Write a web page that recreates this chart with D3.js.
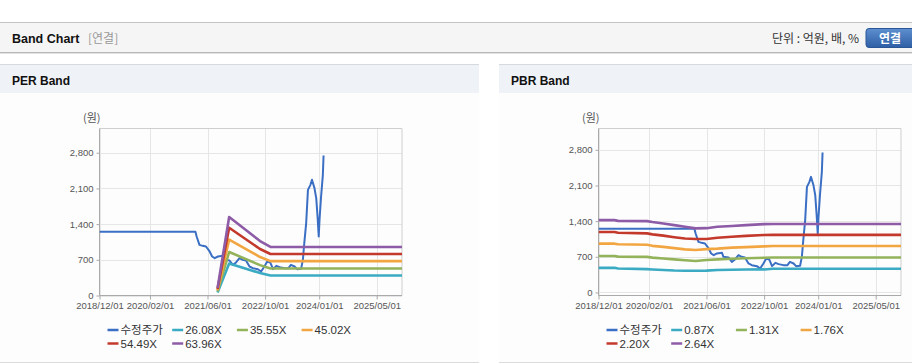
<!DOCTYPE html>
<html><head><meta charset="utf-8">
<script src="https://cdn.jsdelivr.net/npm/d3@7"></script>
<style>
html,body{margin:0;padding:0;background:#fff;}
svg{display:block;font-family:"Liberation Sans","Noto Sans CJK KR",sans-serif;}
</style></head><body>
<svg id="c" width="912" height="364"></svg>
<script>
// ---------- data ----------
const xTickLabels = ["2018/12/01","2020/02/01","2021/06/01","2022/10/01","2024/01/01","2025/05/01"];
const yTicks = [0,700,1400,2100,2800];
const priceName = "수정주가";
const priceDates = ["2018-12-01","2021-02-19","2021-03-01","2021-03-25","2021-04-21","2021-05-19","2021-06-19","2021-07-10","2021-08-01","2021-08-28","2021-10-10","2021-10-22","2021-12-04","2022-01-01","2022-01-28","2022-02-26","2022-03-25","2022-04-22","2022-05-22","2022-06-19","2022-08-01","2022-08-28","2022-09-25","2022-10-19","2022-11-13","2022-12-07","2023-01-04","2023-02-01","2023-03-13","2023-04-16","2023-05-07","2023-06-07","2023-06-28","2023-08-01","2023-08-16","2023-08-28","2023-09-13","2023-09-28","2023-10-19","2023-11-01","2023-11-22","2023-12-07","2023-12-19","2023-12-28","2024-01-04","2024-01-16","2024-02-01","2024-02-07"];
const priceValues = [1249,1249,1158,993,974,961,864,765,732,765,778,699,687,601,648,732,699,687,569,536,516,471,569,667,648,516,581,556,536,536,601,569,516,523,699,1027,1419,2073,2171,2270,2106,1910,1517,1158,1490,1910,2367,2748];

const perNames = ["26.08X","35.55X","45.02X","54.49X","63.96X"];
const perDates = ["2021-08-25","2021-12-01","2022-08-19","2022-11-15","2025-12-01"];
const per1 = [60,627,440,392,392];
const per2 = [83,854,596,530,530];
const per3 = [105,1096,755,675,675];
const per4 = [128,1328,912,815,815];
const per5 = [150,1539,1069,952,952];

const pbrNames = ["0.87X","1.31X","1.76X","2.20X","2.64X"];
const pbrDates = ["2018-12-01","2019-04-15","2019-05-15","2020-01-15","2020-03-01","2020-06-01","2020-09-01","2020-12-01","2021-03-01","2021-06-01","2021-09-01","2022-01-01","2022-05-01","2022-10-01","2022-12-15","2025-12-01"];
const pbr1 = [483,483,470,458,452,440,430,425,425,428,442,447,450,452,465,465];
const pbr2 = [715,715,703,698,683,668,650,632,618,638,650,662,672,682,685,685];
const pbr3 = [958,958,945,935,915,895,870,845,832,850,860,880,890,905,912,912];
const pbr4 = [1188,1188,1172,1160,1140,1115,1085,1060,1048,1050,1075,1095,1110,1128,1130,1130];
const pbr5 = [1420,1420,1405,1400,1382,1355,1322,1290,1258,1262,1290,1305,1322,1342,1345,1345];

const colors = ["#3b6fc4","#3aabc2","#93b35b","#f2a641","#c33a2c","#8e5ba6"];

// ---------- page chrome ----------
const svg = d3.select("#c");
const defs = svg.append("defs");
const grad = defs.append("linearGradient").attr("id","btn").attr("x1",0).attr("y1",0).attr("x2",0).attr("y2",1);
grad.append("stop").attr("offset","0%").attr("stop-color","#5c8fd0");
grad.append("stop").attr("offset","100%").attr("stop-color","#2e5ea4");

svg.append("rect").attr("x",0).attr("y",22).attr("width",912).attr("height",31).attr("fill","#f5f5f5");
svg.append("line").attr("x1",0).attr("x2",912).attr("y1",22.5).attr("y2",22.5).attr("stroke","#c4c4c4");
svg.append("line").attr("x1",0).attr("x2",912).attr("y1",52.5).attr("y2",52.5).attr("stroke","#b8b8b8");
svg.append("line").attr("x1",0).attr("x2",912).attr("y1",53.5).attr("y2",53.5).attr("stroke","#e2e2e2");
svg.append("text").attr("x",12).attr("y",43).attr("font-size",12.5).attr("font-weight","bold").attr("fill","#111").text("Band Chart");
svg.append("text").attr("x",88).attr("y",43).attr("font-size",12).attr("fill","#999").attr("font-family","Noto Sans CJK KR").text("[연결]");
svg.append("text").attr("x",859).attr("y",43).attr("text-anchor","end").attr("font-size",12).attr("fill","#333").attr("font-family","Noto Sans CJK KR").text("단위 : 억원, 배, %");
svg.append("rect").attr("x",866).attr("y",28.5).attr("width",52).attr("height",19).attr("rx",3).attr("fill","url(#btn)").attr("stroke","#2a5698");
svg.append("text").attr("x",890).attr("y",42.5).attr("text-anchor","middle").attr("font-size",12).attr("font-weight","bold").attr("fill","#fff").attr("font-family","Noto Sans CJK KR").text("연결");

const parse = d3.utcParse("%Y-%m-%d");
const parseTick = d3.utcParse("%Y/%m/%d");
const xTickDates = xTickLabels.map(parseTick);

function panel(ox, w, title, yDomain, bandNames, bandDates, bands) {
  const g = svg.append("g");
  g.append("rect").attr("x",ox).attr("y",64).attr("width",w).attr("height",29).attr("fill","#eff2f7");
  g.append("line").attr("x1",ox).attr("x2",ox+w).attr("y1",64.5).attr("y2",64.5).attr("stroke","#d6d9de");
  g.append("rect").attr("x",ox).attr("y",93).attr("width",w).attr("height",269).attr("fill","#fdfdfe");
  g.append("line").attr("x1",ox).attr("x2",ox+w).attr("y1",362.5).attr("y2",362.5).attr("stroke","#dcdcdc");
  g.append("text").attr("x",ox+12).attr("y",85).attr("font-size",12).attr("font-weight","bold").attr("fill","#111").text(title);

  const L = ox+99.5, R = ox+402, T = 128.5, B = 295.5;
  const x = d3.scaleUtc().domain([parse("2018-12-01"), parse("2025-12-01")]).range([L, R]);
  const y = d3.scaleLinear().domain(yDomain).range([B, T]);

  g.append("text").attr("x",ox+83).attr("y",122).attr("font-size",11).attr("fill","#555").attr("font-family","Noto Sans CJK KR").text("(원)");

  // grid
  g.selectAll(".gx").data(xTickDates).join("line")
    .attr("x1",d=>Math.round(x(d))+0.5).attr("x2",d=>Math.round(x(d))+0.5).attr("y1",T).attr("y2",B).attr("stroke","#e6e6e6");
  g.selectAll(".gy").data(yTicks).join("line")
    .attr("x1",L).attr("x2",R).attr("y1",d=>Math.round(y(d))+0.5).attr("y2",d=>Math.round(y(d))+0.5).attr("stroke","#e6e6e6");
  // frame
  g.append("line").attr("x1",L).attr("x2",R).attr("y1",T).attr("y2",T).attr("stroke","#cfcfcf");
  g.append("line").attr("x1",R).attr("x2",R).attr("y1",T).attr("y2",B).attr("stroke","#cfcfcf");
  g.append("line").attr("x1",L).attr("x2",L).attr("y1",T).attr("y2",B).attr("stroke","#aaa");
  g.append("line").attr("x1",L).attr("x2",R).attr("y1",B).attr("y2",B).attr("stroke","#aaa");

  // axes
  const ax = g.append("g").attr("transform",`translate(0,${B})`)
    .call(d3.axisBottom(x).tickValues(xTickDates).tickFormat(d3.utcFormat("%Y/%m/%d")).tickSize(4).tickPadding(3));
  ax.select(".domain").remove();
  ax.selectAll("line").attr("stroke","#aaa");
  ax.selectAll("text").attr("font-size",9.5).attr("fill","#555").attr("font-family","Liberation Sans");
  const ay = g.append("g").attr("transform",`translate(${L},0)`)
    .call(d3.axisLeft(y).tickValues(yTicks).tickFormat(d3.format(",")).tickSize(3).tickPadding(3));
  ay.select(".domain").remove();
  ay.selectAll("line").attr("stroke","#aaa");
  ay.selectAll("text").attr("font-size",9.5).attr("fill","#555").attr("font-family","Liberation Sans");

  const line = d3.line().x(d=>x(d[0])).y(d=>y(d[1]));
  const clip = "clip"+ox;
  defs.append("clipPath").attr("id",clip).append("rect").attr("x",L).attr("y",T).attr("width",R-L).attr("height",B-T);
  const lg = g.append("g").attr("clip-path",`url(#${clip})`);
  const priceData = priceDates.map((d,i)=>[parse(d), priceValues[i]]);
  lg.append("path").datum(priceData).attr("d",line).attr("fill","none").attr("stroke",colors[0]).attr("stroke-width",2).attr("stroke-linejoin","round");
  bands.forEach((vals,k)=>{
    const data = bandDates.map((d,i)=>[parse(d), vals[i]]);
    lg.append("path").datum(data).attr("d",line).attr("fill","none").attr("stroke",colors[k+1]).attr("stroke-width",2.6).attr("stroke-linejoin","round");
  });

  // legend
  const names = [priceName].concat(bandNames);
  names.forEach((n,i)=>{
    const col = i<4 ? i : i-4, row = i<4 ? 0 : 1;
    const lx = ox + 107.5 + col*64.7, ly = 330 + row*13.5;
    g.append("line").attr("x1",lx).attr("x2",lx+11).attr("y1",ly).attr("y2",ly).attr("stroke",colors[i]).attr("stroke-width",2.5);
    g.append("text").attr("x",lx+13).attr("y",ly+4).attr("font-size",11.5).attr("fill","#333")
      .attr("font-family", i===0 ? "Noto Sans CJK KR" : "Liberation Sans").text(n);
  });
}

panel(0, 479, "PER Band", [0, 3276], perNames, perDates, [per1,per2,per3,per4,per5]);
panel(499, 413, "PBR Band", [-60, 3219], pbrNames, pbrDates, [pbr1,pbr2,pbr3,pbr4,pbr5]);
</script>
</body></html>
